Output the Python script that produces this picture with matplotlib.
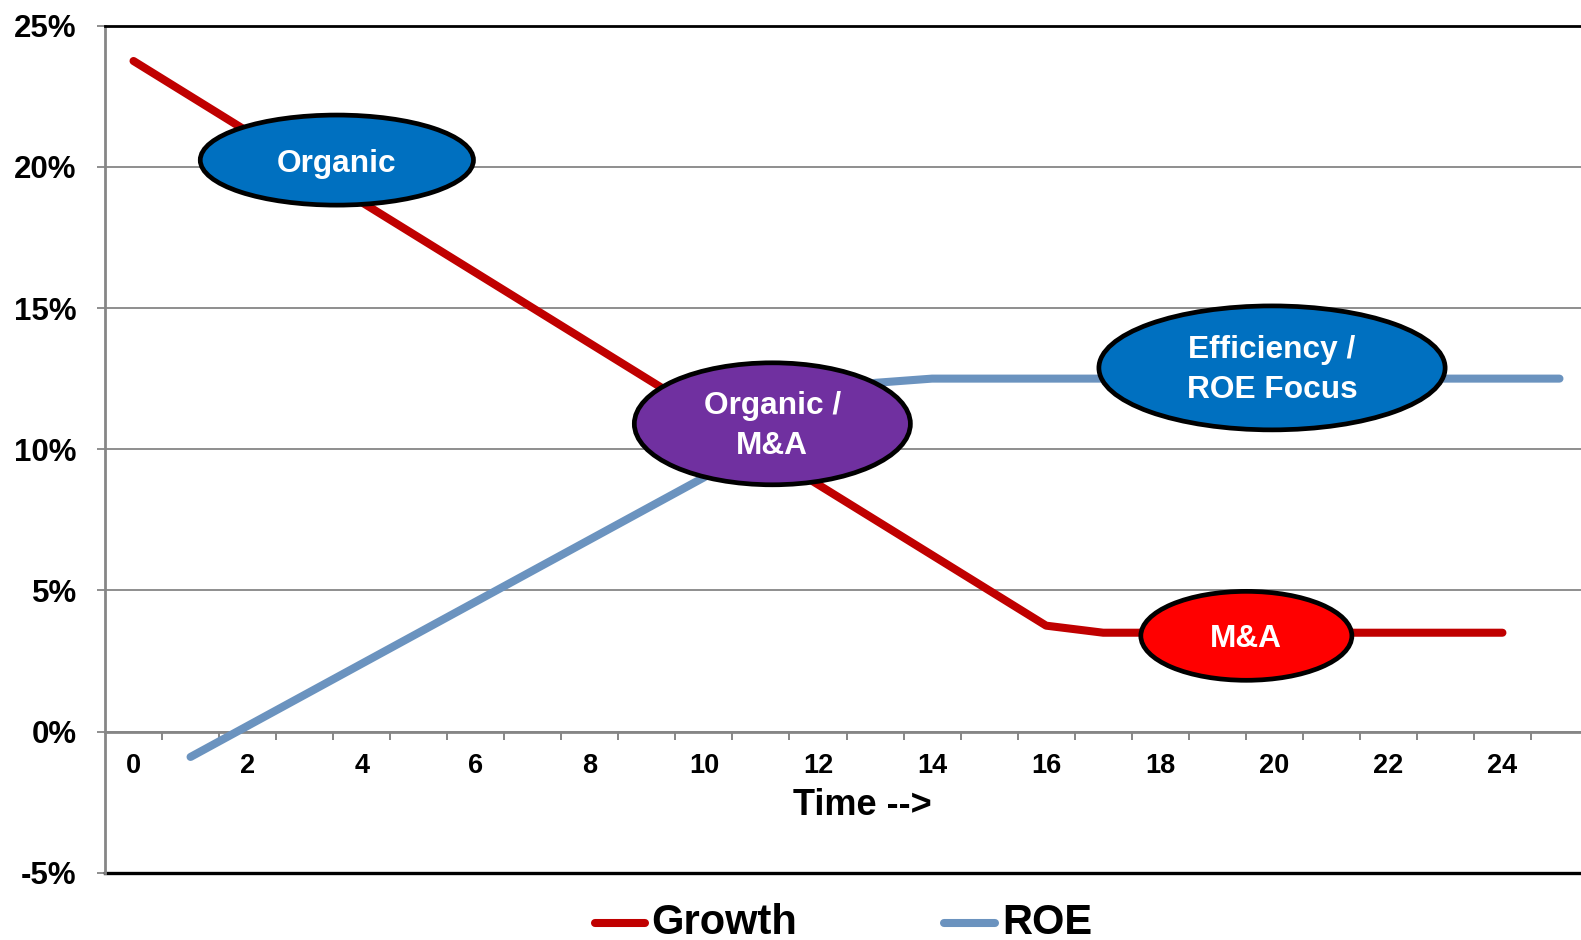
import matplotlib
matplotlib.use("Agg")
import matplotlib.pyplot as plt
import numpy as np
from matplotlib.lines import Line2D
from matplotlib.patches import Ellipse
from matplotlib.ticker import FuncFormatter

# Growth / ROE life-cycle curves, values in percent
growth_x = list(range(0, 25))
growth = [23.75, 22.5, 21.25, 20.0, 18.75, 17.5, 16.25, 15.0, 13.75, 12.5,
          11.25, 10.0, 8.75, 7.5, 6.25, 5.0, 3.75, 3.5, 3.5, 3.5,
          3.5, 3.5, 3.5, 3.5, 3.5]

roe_x = list(range(1, 26))
roe = [-0.9, 0.2, 1.3, 2.4, 3.5, 4.6, 5.7, 6.8, 7.9, 9.0,
       10.4, 11.9, 12.35, 12.5, 12.5, 12.5, 12.5, 12.5, 12.5, 12.5,
       12.5, 12.5, 12.5, 12.5, 12.5]

x_labels = [str(v) for v in range(0, 25, 2)]
y_ticks = [-5, 0, 5, 10, 15, 20, 25]

# stage bubbles: label lines, centre (category, %), size (categories, %), fill
stage_labels = [["Organic"], ["Organic /", "M&A"], ["Efficiency /", "ROE Focus"], ["M&A"]]
stage_centres = [(3.565, 20.24), (11.2, 10.9), (19.96, 12.88), (19.51, 3.39)]
stage_sizes = [(4.79, 3.19), (4.84, 4.32), (6.07, 4.39), (3.70, 3.15)]
stage_colors = ["#0070C0", "#7030A0", "#0070C0", "#FF0000"]

RED = "#C00000"
BLUE = "#6B93BF"
GRID = "#868686"
FONT = "Liberation Sans"

W, H = 1581, 940
fig = plt.figure(figsize=(W / 100, H / 100), dpi=100)
plt.rcParams["font.family"] = [FONT, "DejaVu Sans"]

# plot area in pixels: left 105, right 1588 (runs off the edge), top 25.7, bottom 872.7
left, right, top, bottom = 105, 1588, 25.7, 872.7
ax = fig.add_axes([left / W, 1 - bottom / H, (right - left) / W, (bottom - top) / H])
ax.set_xlim(-0.5, 25.5)
ax.set_ylim(-5, 25)

ax.plot(growth_x, growth, color=RED, lw=5.8, solid_capstyle="round",
        solid_joinstyle="round", zorder=3)
ax.plot(roe_x, roe, color=BLUE, lw=5.8, solid_capstyle="round",
        solid_joinstyle="round", zorder=3)

# axes styling
ax.set_yticks(y_ticks)
ax.yaxis.set_major_formatter(FuncFormatter(lambda v, p: f"{int(v)}%"))
ax.tick_params(axis="y", direction="out", length=5.8, width=1.3, color=GRID,
               pad=14.5, labelsize=22.5)
for lab in ax.get_yticklabels():
    lab.set_fontweight("bold")
ax.yaxis.grid(True, color=GRID, lw=1.3, zorder=0)
ax.set_axisbelow(True)

ax.spines["left"].set_color(GRID)
ax.spines["left"].set_linewidth(2)
ax.spines["right"].set_visible(False)
ax.spines["top"].set_color("black")
ax.spines["top"].set_linewidth(2)
ax.spines["bottom"].set_position(("data", 0))
ax.spines["bottom"].set_color(GRID)
ax.spines["bottom"].set_linewidth(2)
ax.axhline(-5, color="black", lw=2.4, clip_on=False, zorder=2)

ax.set_xticks(np.arange(0.5, 25.5, 1.0))
ax.set_xticklabels([])
ax.tick_params(axis="x", which="major", direction="out", length=5.5, width=1.4,
               color=GRID)
ax.set_xticks(np.arange(0, 25, 2), x_labels, minor=True)
ax.tick_params(axis="x", which="minor", length=0, pad=15.5, labelsize=19.5)
for lab in ax.get_xticklabels(minor=True):
    lab.set_fontweight("bold")

# stage bubbles
for lines, (cx, cy), (w, h), col in zip(stage_labels, stage_centres, stage_sizes, stage_colors):
    ax.add_patch(Ellipse((cx, cy), w, h, facecolor=col, edgecolor="black",
                         lw=3.4, zorder=5, clip_on=False))
    offsets = [-11.5] if len(lines) == 1 else [10, -30.5]
    for txt, dy in zip(lines, offsets):
        ax.annotate(txt, (cx, cy), xytext=(0, dy), textcoords="offset pixels",
                    ha="center", va="baseline", color="white", fontsize=22.8,
                    fontweight="bold", zorder=6)

fig.text(862 / W, 1 - 815 / H, "Time -->", ha="center", va="baseline",
         fontsize=26, fontweight="bold")

# legend drawn along the bottom edge
leg_y = 1 - 923 / H
for (x0, x1, tx), col, name in zip([(595, 644.5, 651), (944, 994.5, 1002)],
                                   [RED, BLUE], ["Growth", "ROE"]):
    fig.add_artist(Line2D([x0 / W, x1 / W], [leg_y, leg_y], color=col, lw=5.8,
                          solid_capstyle="round", transform=fig.transFigure))
    fig.text(tx / W, 1 - 934 / H, name, ha="left", va="baseline",
             fontsize=30, fontweight="bold")

fig.savefig("out.png", dpi=100)
